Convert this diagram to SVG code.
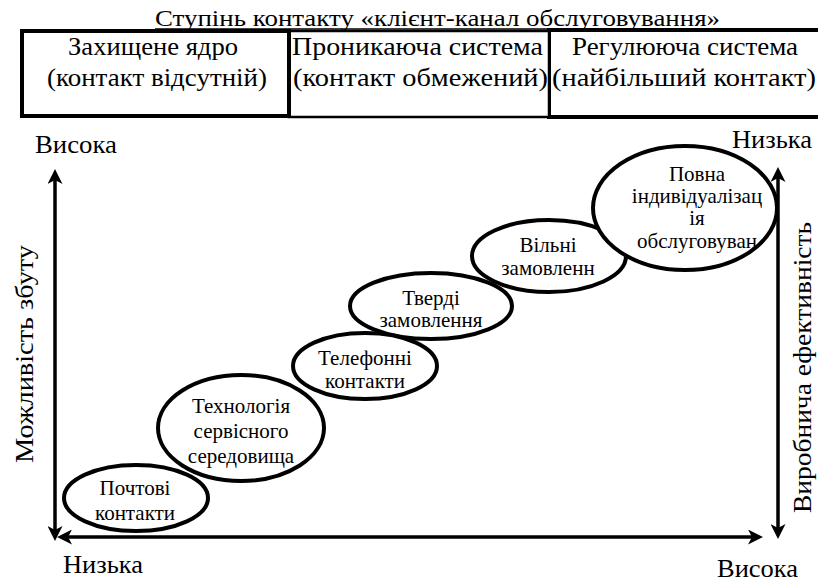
<svg xmlns="http://www.w3.org/2000/svg" width="818" height="583" viewBox="0 0 818 583">
<defs>
<marker id="ah" markerUnits="userSpaceOnUse" markerWidth="15" markerHeight="15" viewBox="0 0 15 15" refX="4" refY="7.5" orient="auto-start-reverse">
<path d="M0,0 L15,7.5 L0,15 L4,7.5 Z" fill="#000"/>
</marker>
</defs>
<rect width="818" height="583" fill="#fff"/>

<g id="title">
<text x="155" y="26" font-family="Liberation Serif" font-size="24" textLength="565" lengthAdjust="spacingAndGlyphs">Ступінь контакту «клієнт-канал обслуговування»</text>
<line x1="155" y1="29" x2="720" y2="29" stroke="#000" stroke-width="1.5"/>
</g>

<g id="box3">
<rect x="549" y="30" width="275" height="87" fill="#fff" stroke="#000" stroke-width="4"/>
<text x="572" y="55" font-family="Liberation Serif" font-size="25" textLength="226" lengthAdjust="spacingAndGlyphs">Регулююча система</text>
<text x="552" y="86" font-family="Liberation Serif" font-size="25" textLength="264" lengthAdjust="spacingAndGlyphs">(найбільший  контакт)</text>
</g>
<g id="box2">
<rect x="289" y="31" width="260" height="86" fill="#fff" stroke="#000" stroke-width="2.5"/>
<text x="292" y="55" font-family="Liberation Serif" font-size="25" textLength="251" lengthAdjust="spacingAndGlyphs">Проникаюча система</text>
<text x="293" y="86" font-family="Liberation Serif" font-size="25" textLength="255" lengthAdjust="spacingAndGlyphs">(контакт обмежений)</text>
</g>
<g id="box1">
<rect x="22" y="31" width="267" height="85" fill="#fff" stroke="#000" stroke-width="4"/>
<text x="68" y="55" font-family="Liberation Serif" font-size="25" textLength="170" lengthAdjust="spacingAndGlyphs">Захищене ядро</text>
<text x="47" y="86" font-family="Liberation Serif" font-size="25" textLength="220" lengthAdjust="spacingAndGlyphs">(контакт відсутній)</text>
</g>

<g id="connectors" stroke="#000" stroke-width="3.5" fill="none" marker-start="url(#ah)" marker-end="url(#ah)">
<line x1="55" y1="530" x2="55" y2="180"/>
<line x1="68" y1="537" x2="752" y2="537"/>
<line x1="778" y1="528" x2="778" y2="178"/>
</g>

<g id="axis-labels">
<text x="35" y="153" font-family="Liberation Serif" font-size="25" textLength="82" lengthAdjust="spacingAndGlyphs">Висока</text>
<text x="63" y="573" font-family="Liberation Serif" font-size="25" textLength="80" lengthAdjust="spacingAndGlyphs">Низька</text>
<text x="732" y="148" font-family="Liberation Serif" font-size="25" textLength="80" lengthAdjust="spacingAndGlyphs">Низька</text>
<text x="717" y="577" font-family="Liberation Serif" font-size="25" textLength="81" lengthAdjust="spacingAndGlyphs">Висока</text>
<text transform="translate(33,463) rotate(-90)" x="0" y="0" font-family="Liberation Serif" font-size="25" textLength="218" lengthAdjust="spacingAndGlyphs">Можливість збуту</text>
<text transform="translate(811,513) rotate(-90)" x="0" y="0" font-family="Liberation Serif" font-size="25" textLength="291" lengthAdjust="spacingAndGlyphs">Виробнича ефективність</text>
</g>

<g id="n1">
<ellipse cx="136" cy="498" rx="72" ry="33" fill="#fff" stroke="#000" stroke-width="4"/>
<text x="135" y="495" font-family="Liberation Serif" font-size="21" text-anchor="middle">Почтові</text>
<text x="135" y="520" font-family="Liberation Serif" font-size="21" text-anchor="middle">контакти</text>
</g>
<g id="n2">
<ellipse cx="241" cy="428" rx="83" ry="53" fill="#fff" stroke="#000" stroke-width="4"/>
<text x="241" y="413" font-family="Liberation Serif" font-size="21" text-anchor="middle">Технологія</text>
<text x="241" y="438" font-family="Liberation Serif" font-size="21" text-anchor="middle">сервісного</text>
<text x="241" y="463" font-family="Liberation Serif" font-size="21" text-anchor="middle">середовища</text>
</g>
<g id="n4">
<ellipse cx="431" cy="306" rx="81" ry="33" fill="#fff" stroke="#000" stroke-width="4"/>
<text x="431" y="305" font-family="Liberation Serif" font-size="21" text-anchor="middle">Тверді</text>
<text x="431" y="327" font-family="Liberation Serif" font-size="21" text-anchor="middle">замовлення</text>
</g>
<g id="n3">
<ellipse cx="365" cy="366" rx="72" ry="33" fill="#fff" stroke="#000" stroke-width="4"/>
<text x="365" y="365" font-family="Liberation Serif" font-size="21" text-anchor="middle">Телефонні</text>
<text x="365" y="388" font-family="Liberation Serif" font-size="21" text-anchor="middle">контакти</text>
</g>
<g id="n5">
<ellipse cx="549" cy="256" rx="77" ry="36" fill="#fff" stroke="#000" stroke-width="4"/>
<text x="548" y="252" font-family="Liberation Serif" font-size="21" text-anchor="middle">Вільні</text>
<text x="548" y="275" font-family="Liberation Serif" font-size="21" text-anchor="middle">замовленн</text>
</g>
<g id="n6">
<ellipse cx="685" cy="208" rx="92" ry="62" fill="#fff" stroke="#000" stroke-width="4"/>
<text x="697" y="181" font-family="Liberation Serif" font-size="21" text-anchor="middle">Повна</text>
<text x="697" y="203" font-family="Liberation Serif" font-size="21" text-anchor="middle">індивідуалізац</text>
<text x="697" y="225" font-family="Liberation Serif" font-size="21" text-anchor="middle">ія</text>
<text x="697" y="248" font-family="Liberation Serif" font-size="21" text-anchor="middle">обслуговуван</text>
</g>
</svg>
